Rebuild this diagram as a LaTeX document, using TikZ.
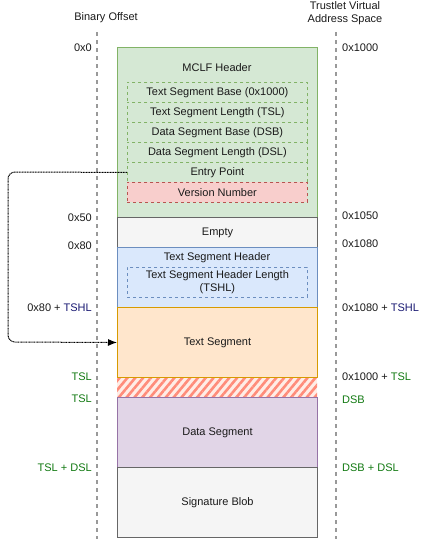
\documentclass[tikz,border=0pt]{standalone}
\usepackage{fontspec}
\setmainfont{Liberation Sans}
\usetikzlibrary{arrows.meta,patterns.meta}
\definecolor{gfill}{HTML}{D5E8D4}\definecolor{gline}{HTML}{82B366}
\definecolor{rfill}{HTML}{F8CECC}\definecolor{rline}{HTML}{B85450}
\definecolor{nfill}{HTML}{F5F5F5}\definecolor{nline}{HTML}{666666}
\definecolor{bfill}{HTML}{DAE8FC}\definecolor{bline}{HTML}{6C8EBF}
\definecolor{ofill}{HTML}{FFE6CC}\definecolor{oline}{HTML}{D79B00}
\definecolor{pfill}{HTML}{E1D5E7}\definecolor{pline}{HTML}{9673A6}
\definecolor{hatchc}{HTML}{FF8C7A}\definecolor{hatchbg}{HTML}{FFEDE6}
\definecolor{txtgreen}{HTML}{137A13}\definecolor{txtblue}{HTML}{1A1A73}
\definecolor{axisc}{HTML}{999999}\definecolor{txt}{HTML}{1A1A1A}
\begin{document}
\begin{tikzpicture}[x=1pt,y=-1pt,
  every node/.style={font=\fontsize{11}{13}\selectfont, text=txt},
  seg/.style={draw, line width=1pt, minimum width=200pt, inner sep=0pt, anchor=north west},
  field/.style={draw, dashed, line width=0.8pt, minimum width=180pt, minimum height=20pt, inner sep=0pt, anchor=north west},
  axis/.style={axisc, line width=2pt, dash pattern=on 4pt off 4pt},
  lbl/.style={anchor=east, inner sep=0pt},
  rbl/.style={anchor=west, inner sep=0pt}]
\useasboundingbox (0,0) rectangle (423,539);
% axes
\coordinate (la1) at (97,32); \coordinate (la2) at (97,539);
\coordinate (ra1) at (336,32); \coordinate (ra2) at (336,539);
\draw[axis] (la1) -- (la2);
\draw[axis] (ra1) -- (ra2);
\node (bo) at (106,18) {Binary Offset};
\node[align=center, font=\fontsize{11}{12.5}\selectfont] (tv) at (345,13) {Trustlet Virtual\\Address Space};
% segments
\node[seg, fill=gfill, draw=gline, minimum height=170pt] (mclf) at (117,47) {};
\node (mclft) at (217,68) {MCLF Header};
\node[field, fill=gfill, draw=gline] (f1) at (127,82) {Text Segment Base (0x1000)};
\node[field, fill=gfill, draw=gline] (f2) at (127,102) {Text Segment Length (TSL)};
\node[field, fill=gfill, draw=gline] (f3) at (127,122) {Data Segment Base (DSB)};
\node[field, fill=gfill, draw=gline] (f4) at (127,142) {Data Segment Length (DSL)};
\node[field, fill=gfill, draw=gline] (ep) at (127,162) {Entry Point};
\node[field, fill=rfill, draw=rline] (vn) at (127,182) {Version Number};
\node[seg, fill=nfill, draw=nline, minimum height=30pt] (empty) at (117,217) {Empty};
\node[seg, fill=bfill, draw=bline, minimum height=60pt] (tsh) at (117,247) {};
\node (tsht) at (217,258) {Text Segment Header};
\node[field, fill=bfill, draw=bline, minimum height=30pt, align=center, font=\fontsize{11}{13}\selectfont] (tshl) at (127,267) {Text Segment Header Length\\(TSHL)};
\node[seg, fill=ofill, draw=oline, minimum height=70pt] (ts) at (117,307) {Text Segment};
\fill[hatchbg] (117,377.5) rectangle (317,397);
\fill[pattern={Lines[angle=50,distance=6pt,line width=2.6pt]}, pattern color=hatchc] (117,377.5) rectangle (317,397);
\node[seg, fill=pfill, draw=pline, minimum height=70pt] (ds) at (117,397) {Data Segment};
\node[seg, fill=nfill, draw=nline, minimum height=70pt] (sb) at (117,467) {Signature Blob};
\draw[oline, line width=1pt] (117,377) -- (317,377);
% left labels
\node[lbl] (l0) at (92,48) {0x0};
\node[lbl] (l1) at (92,218) {0x50};
\node[lbl] (l2) at (92,246) {0x80};
\node[lbl] (l3) at (92,308) {0x80 + \textcolor{txtblue}{TSHL}};
\node[lbl, text=txtgreen] (l4) at (92,377) {TSL};
\node[lbl, text=txtgreen] (l5) at (92,399) {TSL};
\node[lbl, text=txtgreen] (l6) at (92,468) {TSL + DSL};
% right labels
\node[rbl] (r0) at (342,48) {0x1000};
\node[rbl] (r1) at (342,216) {0x1050};
\node[rbl] (r2) at (342,244) {0x1080};
\node[rbl] (r3) at (342,308) {0x1080 + \textcolor{txtblue}{TSHL}};
\node[rbl] (r4) at (342,377) {0x1000 + \textcolor{txtgreen}{TSL}};
\node[rbl, text=txtgreen] (r5) at (342,400) {DSB};
\node[rbl, text=txtgreen] (r6) at (342,468) {DSB + DSL};
% connector
\draw[line width=1pt, dash pattern=on 1pt off 0.6pt, rounded corners=7pt, -{Latex[length=9pt,width=7pt]}]
  (ep.west) -- (8,172) -- (8,342) -- (ts.west);
\end{tikzpicture}
\end{document}
